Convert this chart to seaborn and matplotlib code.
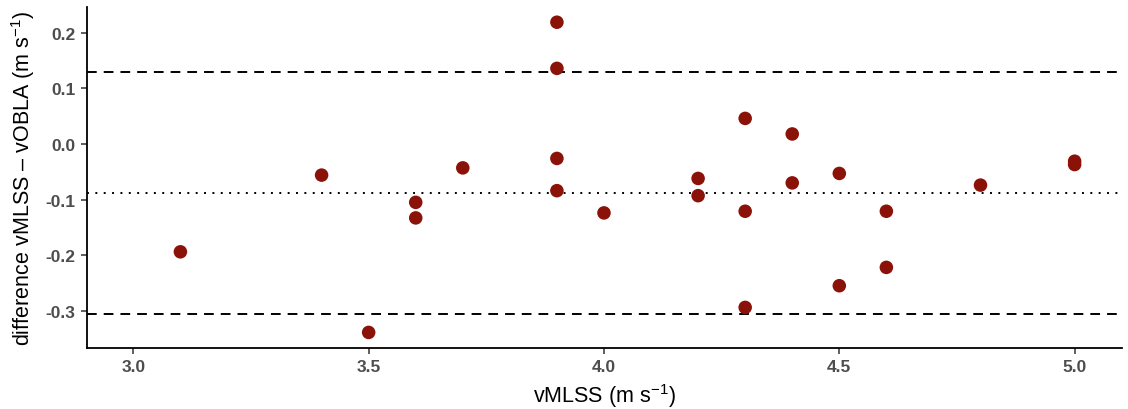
import matplotlib
matplotlib.use("Agg")
import matplotlib.pyplot as plt
import seaborn as sns
import pandas as pd

vmlss = [3.1, 3.4, 3.5, 3.6, 3.6, 3.7, 3.9, 3.9, 3.9, 3.9, 4.0, 4.2, 4.2,
         4.3, 4.3, 4.3, 4.4, 4.4, 4.5, 4.5, 4.6, 4.6, 4.8, 5.0, 5.0]
diff = [-0.194, -0.056, -0.339, -0.105, -0.133, -0.043, 0.219, 0.136, -0.026,
        -0.084, -0.124, -0.062, -0.093, 0.046, -0.121, -0.294, 0.018, -0.070,
        -0.053, -0.255, -0.121, -0.222, -0.074, -0.031, -0.037]
mean_diff = -0.0887
upper_loa = 0.129
lower_loa = -0.305
x_ticks = [3.0, 3.5, 4.0, 4.5, 5.0]
y_ticks = [-0.3, -0.2, -0.1, 0.0, 0.1, 0.2]

df = pd.DataFrame({"vMLSS": vmlss, "diff": diff})

sns.set_theme(style="ticks")
plt.rcParams["font.family"] = ["Liberation Sans", "DejaVu Sans"]
plt.rcParams["mathtext.fontset"] = "custom"
plt.rcParams["mathtext.rm"] = "Liberation Sans"
plt.rcParams["mathtext.it"] = "Liberation Sans"

fig = plt.figure(figsize=(11.28, 4.10), dpi=100)
ax = fig.add_axes([0.0769, 0.1488, 0.9175, 0.8317])

ax.axhline(upper_loa, color="black", lw=1.4, dashes=(5.0, 3.6), zorder=1)
ax.axhline(lower_loa, color="black", lw=1.4, dashes=(5.0, 3.6), zorder=1)
ax.axhline(mean_diff, color="black", lw=1.4, dashes=(1, 3.3), zorder=1)

sns.scatterplot(data=df, x="vMLSS", y="diff", ax=ax, color="#8B1208",
                s=95, edgecolor="none", zorder=3)

ax.set_xlim(2.901, 5.1)
ax.set_ylim(-0.367, 0.2464)
ax.set_xticks(x_ticks)
ax.set_xticklabels([f"{t:.1f}" for t in x_ticks], fontsize=12.5,
                   fontweight="bold", color="#4D4D4D")
ax.set_yticks(y_ticks)
ax.set_yticklabels([f"{t:.1f}" for t in y_ticks], fontsize=12.5,
                   fontweight="bold", color="#4D4D4D")
ax.tick_params(axis="both", length=4, width=1.1, color="#333333", pad=4)

ax.set_xlabel("vMLSS (m s$^{-1}$)", fontsize=15.5, color="black", labelpad=5)
ax.set_ylabel("difference vMLSS – vOBLA (m s$^{-1}$)", fontsize=15.5,
              color="black", labelpad=6)

sns.despine(ax=ax)
for sp in ["left", "bottom"]:
    ax.spines[sp].set_linewidth(1.3)
    ax.spines[sp].set_color("black")

fig.savefig("out.png", dpi=100)
